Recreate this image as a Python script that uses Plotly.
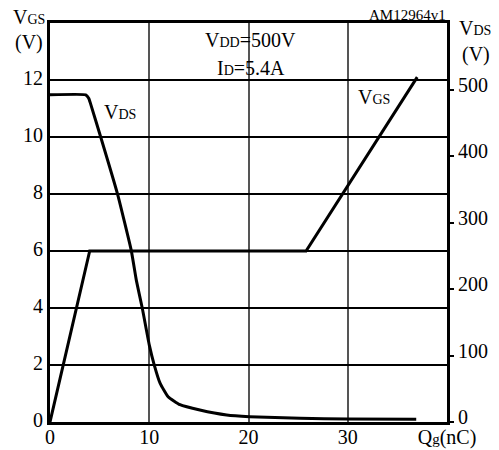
import plotly.graph_objects as go

# ---- data ----
qg_vgs = [0, 4.0, 25.8, 37.0]
vgs = [0, 6, 6, 12.1]

qg_vds = [0, 3.6, 3.9, 4.1, 5.1, 6.8, 8.2, 8.7, 9.3, 10.0, 10.5, 11.1, 11.9,
          13.1, 15.1, 17.8, 20.1, 25.2, 30.0, 36.9]
vds = [492, 492, 487, 478, 429, 343, 257, 213, 171, 116, 86, 58, 38,
       26, 18, 10.5, 8, 5.5, 4.5, 4]

x_ticks = [0, 10, 20, 30, 40]
x_ticktext = ["0", "10", "20", "30", "Q<span style='font-size:15px'>g</span>(nC)"]
y_ticks = [0, 2, 4, 6, 8, 10, 12]
y2_ticks = [0, 100, 200, 300, 400, 500]

FONT = "Liberation Serif"
SM = "font-size:14px"
TF = dict(family=FONT, size=20, color="black")

fig = go.Figure()
fig.add_trace(go.Scatter(x=qg_vgs, y=vgs, mode="lines",
                         line=dict(color="black", width=3), showlegend=False))
fig.add_trace(go.Scatter(x=qg_vds, y=vds, mode="lines", yaxis="y2",
                         line=dict(color="black", width=3, shape="spline", smoothing=0.4),
                         showlegend=False))

fig.update_layout(
    width=499, height=450,
    margin=dict(l=50, r=52, t=23, b=28),
    paper_bgcolor="white", plot_bgcolor="white",
    font=dict(family=FONT, size=20, color="black"),
    xaxis=dict(range=[0, 40], tickvals=x_ticks, ticktext=x_ticktext, automargin=False,
               showgrid=True, gridcolor="#555", gridwidth=1.5,
               showline=True, linecolor="black", linewidth=3, mirror=True,
               ticks="", zeroline=False, tickfont=TF, ticklabelstandoff=-5),
    yaxis=dict(range=[0, 14], tickvals=y_ticks, automargin=False,
               showgrid=True, gridcolor="black", gridwidth=2,
               showline=True, linecolor="black", linewidth=3, mirror=True,
               ticks="", zeroline=False, tickfont=TF, ticklabelshift=-2),
    yaxis2=dict(range=[0, 600], tickvals=y2_ticks, overlaying="y", side="right",
                automargin=False,
                showgrid=False, zeroline=False, showline=False,
                ticks="outside", ticklen=6, tickwidth=2, tickcolor="black",
                tickfont=TF, ticklabelshift=-5),
)

ann = [
    dict(x=-0.054, y=1.015, text=f"V<span style='{SM}'>GS</span>", xanchor="center", yanchor="middle"),
    dict(x=-0.054, y=0.952, text="(V)", xanchor="center", yanchor="middle"),
    dict(x=1.025, y=0.987, text=f"V<span style='{SM}'>DS</span>", xanchor="left", yanchor="middle"),
    dict(x=1.033, y=0.920, text="(V)", xanchor="left", yanchor="middle"),
    dict(x=1.0025, y=1.02, text="AM12964v1", xanchor="right", yanchor="middle", font=dict(size=15)),
    dict(x=0.504, y=0.957, text=f"V<span style='{SM}'>DD</span>=500V", xanchor="center", yanchor="middle"),
    dict(x=0.506, y=0.887, text=f"I<span style='{SM}'>D</span>=5.4A", xanchor="center", yanchor="middle"),
]
for a in ann:
    a.update(xref="paper", yref="paper", showarrow=False)
    fig.add_annotation(**a)

fig.add_annotation(x=7.05, y=10.88, xref="x", yref="y", showarrow=False,
                   text=f"V<span style='{SM}'>DS</span>")
fig.add_annotation(x=32.6, y=11.4, xref="x", yref="y", showarrow=False,
                   text=f"V<span style='{SM}'>GS</span>")

fig.write_html("out.html")
